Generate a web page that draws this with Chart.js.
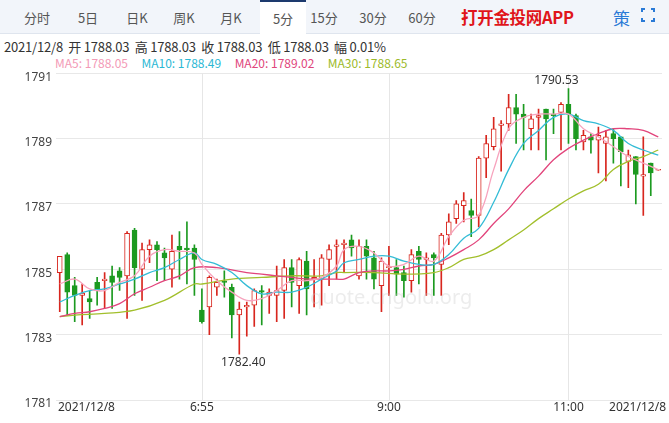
<!DOCTYPE html>
<html>
<head>
<meta charset="utf-8">
<script src="https://cdn.jsdelivr.net/npm/chart.js@4.4.0/dist/chart.umd.min.js"></script>
<style>
  body { margin: 0; width: 669px; height: 423px; overflow: hidden; background: #fff; font-family: "Noto Sans CJK SC", "Noto Sans", sans-serif; }
  .tabs { position: absolute; left: 0; top: 0; width: 669px; height: 33px; background: #f2f5fa; border-bottom: 1px solid #dfe5ee; }
  .tab { position: absolute; top: 0; height: 33px; line-height: 35px; font-size: 13px; color: #555; text-align: center; width: 44px; }
  .tab.on { background: #fff; border-top: 2px solid #1d3a6e; height: 32px; line-height: 33px; width: 46px; }
  .app { position: absolute; left: 461px; top: 0; line-height: 35px; font-size: 16.5px; font-weight: bold; color: #e0151b; letter-spacing: -0.3px; }
  .ce { position: absolute; left: 613px; top: 0; line-height: 35px; font-size: 17px; color: #2a7ad6; }
  .ico { position: absolute; left: 641px; top: 8px; width: 14px; height: 14px; border: 2px solid #2a7ad6; box-sizing: border-box; }
  .ico::before { content: ''; position: absolute; left: 2px; top: -2px; width: 6px; height: 14px; background: #f2f5fa; }
  .ico::after { content: ''; position: absolute; left: -2px; top: 2px; width: 14px; height: 6px; background: #f2f5fa; }
  .dots { position: absolute; left: 663px; top: 0; line-height: 33px; font-size: 16px; color: #2a7ad6; font-weight: bold; }
  .info { position: absolute; left: 4px; top: 37px; font-size: 13px; color: #333; white-space: pre; letter-spacing: -0.2px; }
  .ma { position: absolute; left: 55px; top: 54px; font-size: 12px; white-space: pre; }
  #wrap { position: absolute; left: 0; top: 62px; width: 669px; height: 361px; }
</style>
</head>
<body>
<div class="tabs">
  <div class="tab" style="left:15px">分时</div>
  <div class="tab" style="left:66px">5日</div>
  <div class="tab" style="left:115px">日K</div>
  <div class="tab" style="left:162px">周K</div>
  <div class="tab" style="left:209px">月K</div>
  <div class="tab on" style="left:260px">5分</div>
  <div class="tab" style="left:302px">15分</div>
  <div class="tab" style="left:351px">30分</div>
  <div class="tab" style="left:400px">60分</div>
  <div class="app">打开金投网APP</div>
  <div class="ce">策</div>
  <div class="ico"></div>
  <div class="dots">⋮</div>
</div>
<div class="info">2021/12/8  开 1788.03  高 1788.03  收 1788.03  低 1788.03  幅 0.01%</div>
<div class="ma"><span style="color:#f39ab6">MA5: 1788.05</span>     <span style="color:#2bb8d4">MA10: 1788.49</span>     <span style="color:#e0457b">MA20: 1789.02</span>     <span style="color:#9cba2a">MA30: 1788.65</span></div>
<div id="wrap"><canvas id="c"></canvas></div>
<script>
// candles, one per 5 minutes
const opens  = [1784.9,1785.45,1784.5,1784.2,1784.1,1784.6,1784.65,1784.8,1784.95,1784.8,
  1786.2,1785.0,1785.6,1785.75,1785.5,1785.0,1785.7,1785.65,1785.65,1783.75,
  1783.85,1784.45,1784.65,1784.45,1783.6,1783.85,1783.9,1784.35,1784.2,1784.2,
  1784.35,1785.05,1784.5,1785.25,1784.7,1784.7,1785.3,1785.7,1785.75,1785.9,
  1784.8,1785.7,1785.35,1784.5,1785.05,1785.05,1784.9,1784.65,1785.55,1785.3,
  1785.45,1785.15,1786.05,1786.55,1786.95,1786.8,1786.65,1788.4,1788.75,1789.4,
  1789.45,1789.95,1789.75,1789.3,1789.65,1789.9,1789.75,1789.8,1790.05,1789.7,
  1788.9,1789.05,1788.95,1788.85,1789.15,1789.05,1788.3,1788.45,1787.85,1788.25,1788.03];
const closes = [1785.4,1784.3,1784.2,1784.27,1784.0,1784.35,1784.7,1784.6,1784.75,1786.1,
  1785.05,1785.6,1785.75,1785.6,1785.35,1785.55,1785.6,1785.6,1785.3,1783.4,
  1784.75,1784.6,1784.6,1783.6,1783.78,1783.9,1784.35,1784.3,1784.3,1784.35,
  1785.05,1784.6,1785.3,1784.4,1784.75,1785.35,1785.6,1785.75,1785.8,1785.65,
  1785.7,1785.4,1784.7,1785.25,1785.05,1784.85,1784.65,1785.45,1785.3,1785.35,
  1785.35,1786.05,1786.45,1787.0,1787.1,1786.65,1788.4,1788.85,1789.3,1789.45,
  1789.95,1789.75,1789.65,1789.6,1789.7,1789.6,1789.7,1790.05,1789.75,1789.0,
  1789.1,1788.95,1789.1,1789.05,1789.0,1788.6,1788.5,1787.9,1787.9,1787.95,1788.03];
const highs  = [1785.4,1785.5,1784.75,1784.55,1784.35,1784.75,1784.9,1785.1,1785.05,1786.15,
  1786.25,1785.8,1785.9,1785.85,1785.65,1786.05,1786.15,1786.45,1785.75,1784.4,
  1784.8,1784.7,1784.95,1784.55,1784.0,1784.0,1784.4,1784.5,1784.4,1785.1,
  1785.3,1785.3,1785.35,1785.55,1785.3,1785.45,1785.75,1785.9,1785.9,1786.05,
  1785.9,1785.9,1785.55,1785.35,1785.7,1785.3,1785.1,1785.6,1785.7,1785.5,
  1785.5,1786.1,1786.7,1787.1,1787.35,1787.15,1788.45,1789.1,1789.65,1789.55,
  1790.35,1790.35,1790.05,1789.75,1789.9,1789.9,1789.9,1790.1,1790.53,1789.75,
  1789.25,1789.15,1789.35,1789.25,1789.3,1789.05,1788.65,1788.45,1789.05,1788.25,1788.03];
const lows   = [1783.7,1783.6,1783.4,1783.3,1783.5,1783.9,1783.8,1783.8,1784.35,1783.5,
  1784.2,1784.05,1785.2,1784.65,1784.65,1784.45,1784.7,1784.55,1784.2,1783.35,
  1783.0,1784.2,1784.15,1782.9,1782.40,1782.95,1783.25,1783.3,1783.65,1783.4,
  1783.5,1783.85,1783.65,1783.6,1783.85,1783.9,1784.5,1784.7,1784.9,1785.4,
  1784.7,1784.7,1784.4,1783.7,1784.2,1784.2,1784.15,1784.3,1784.55,1784.2,
  1784.2,1784.2,1785.75,1786.4,1786.45,1786.0,1786.3,1787.8,1788.65,1788.0,
  1789.25,1788.85,1788.65,1788.65,1788.65,1788.35,1789.15,1788.65,1788.85,1788.65,
  1788.65,1788.55,1787.95,1787.7,1788.25,1787.55,1787.5,1787.0,1786.65,1787.25,1788.03];

// moving averages, read at sampled candle indexes
const ma5Idx  = [0,2,4,6,8,10,12,14,16,18,19,21,23,25,27,29,31,33,35,37,38,40,42,44,46,48,50,52,54,56,58,60,62,64,66,68,70,72,74,76,78,80];
const ma5Val  = [1784.55,1784.7,1784.4,1784.35,1784.6,1784.8,1785.4,1785.6,1785.55,1785.5,1785.15,1784.65,1784.3,1784.05,1784.1,1784.35,1784.65,1784.65,1784.75,1785.1,1785.6,1785.7,1785.5,1785.1,1785.15,1785.4,1785.25,1786.0,1786.5,1786.65,1788.05,1789.3,1789.65,1789.75,1789.75,1789.75,1789.3,1789.05,1788.75,1788.45,1788.25,1788.05];
const ma10Idx = [0,2,4,6,8,10,12,14,16,18,19,21,23,25,27,29,31,33,35,37,38,40,42,44,46,48,50,52,54,56,58,60,62,64,66,68,70,72,74,76,78,80];
const ma10Val = [1784.0,1784.2,1784.35,1784.4,1784.55,1784.7,1784.9,1785.05,1785.3,1785.5,1785.3,1785.15,1784.9,1784.5,1784.25,1784.3,1784.3,1784.45,1784.7,1784.95,1785.2,1785.3,1785.4,1785.4,1785.25,1785.15,1785.15,1785.45,1785.95,1786.25,1787.05,1788.05,1788.85,1789.25,1789.65,1789.75,1789.55,1789.45,1789.25,1788.85,1788.65,1788.49];
const ma20Idx = [0,2,4,6,8,10,12,14,16,18,21,25,27,29,31,33,35,37,38,40,42,44,46,48,50,52,54,56,58,60,62,64,66,68,70,72,74,76,78,80];
const ma20Val = [1783.55,1783.65,1783.7,1783.8,1783.95,1784.25,1784.45,1784.65,1784.8,1785.05,1785.05,1784.9,1784.85,1784.8,1784.75,1784.7,1784.7,1784.7,1784.7,1784.9,1784.95,1784.95,1785.0,1785.1,1785.15,1785.35,1785.6,1785.9,1786.4,1786.85,1787.4,1787.85,1788.35,1788.7,1788.95,1789.15,1789.3,1789.3,1789.25,1789.05];
const ma30Idx = [0,2,6,10,14,18,19,23,27,31,35,37,38,42,46,50,52,54,56,58,60,62,64,66,68,70,72,74,76,78,80];
const ma30Val = [1783.55,1783.6,1783.65,1783.75,1784.05,1784.55,1784.55,1784.7,1784.75,1784.8,1784.8,1784.9,1784.9,1784.9,1784.85,1784.9,1785.05,1785.3,1785.4,1785.6,1785.9,1786.2,1786.55,1786.85,1787.15,1787.4,1787.6,1788.05,1788.3,1788.45,1788.65];

const timeTicks = { 0: '2021/12/8', 19: '6:55', 44: '9:00', 68: '11:00', 80: '2021/12/8' };
const yTicks = [1781, 1783, 1785, 1787, 1789, 1791];

const UP = '#d8261e', DOWN = '#1c9a20';
const labels = opens.map((_, i) => i);
const isUp = opens.map((o, i) => closes[i] >= o);
const bodies = opens.map((o, i) => {
  let lo = Math.min(o, closes[i]), hi = Math.max(o, closes[i]);
  if (hi - lo < 0.03) hi = lo + 0.03;
  return [lo, hi];
});
const wicks = highs.map((h, i) => [lows[i], h]);
const pts = (idx, val) => idx.map((x, k) => ({ x, y: val[k] }));

function maLine(label, data, color) {
  return { type: 'line', label, data, borderColor: color, borderWidth: 1.3, pointRadius: 0, tension: 0.4, order: 0 };
}

const extras = {
  id: 'extras',
  beforeDatasetsDraw(chart) {
    const { ctx, chartArea, scales: { x } } = chart;
    ctx.save();
    ctx.strokeStyle = '#e6e6e6';
    ctx.lineWidth = 1;
    [19, 44, 68].forEach(i => {
      const px = Math.round(x.getPixelForValue(i)) + 0.5;
      ctx.beginPath(); ctx.moveTo(px, chartArea.top); ctx.lineTo(px, chartArea.bottom); ctx.stroke();
    });
    ctx.restore();
  },
  afterDraw(chart) {
    const { ctx, chartArea, scales: { x, y } } = chart;
    ctx.save();
    ctx.font = '12px "Noto Sans", sans-serif';
    ctx.fillStyle = '#333';
    ctx.textBaseline = 'top';
    Object.keys(timeTicks).forEach(k => {
      const i = +k;
      let px = x.getPixelForValue(i);
      ctx.textAlign = i === 0 ? 'left' : (i === 80 ? 'right' : 'center');
      if (i === 0) px = chartArea.left + 2;
      if (i === 80) px = chartArea.right + 4;
      ctx.fillText(timeTicks[k], px, chartArea.bottom + 2);
    });
    // extreme labels
    const hiI = highs.indexOf(Math.max(...highs));
    const loI = lows.indexOf(Math.min(...lows));
    ctx.textAlign = 'center';
    ctx.textBaseline = 'bottom';
    ctx.fillText(highs[hiI].toFixed(2), x.getPixelForValue(hiI) - 12, y.getPixelForValue(highs[hiI]) - 2);
    ctx.textBaseline = 'top';
    ctx.fillText(lows[loI].toFixed(2), x.getPixelForValue(loI) + 4, y.getPixelForValue(lows[loI]) + 2);
    // watermark
    ctx.fillStyle = 'rgba(200,200,200,0.35)';
    ctx.font = '20px "Noto Sans", sans-serif';
    ctx.textAlign = 'left';
    ctx.fillText('quote.cngold.org', 310, 226);
    ctx.restore();
  }
};

new Chart(document.getElementById('c'), {
  data: {
    labels,
    datasets: [
      { type: 'bar', data: wicks, backgroundColor: isUp.map(u => u ? UP : DOWN), barThickness: 1, grouped: false, order: 2 },
      { type: 'bar', data: bodies, backgroundColor: isUp.map(u => u ? '#fff' : DOWN), borderColor: isUp.map(u => u ? UP : DOWN),
        borderWidth: 1, borderSkipped: false, barThickness: 5, grouped: false, order: 1 },
      maLine('MA5', pts(ma5Idx, ma5Val), '#f7a3bd'),
      maLine('MA10', pts(ma10Idx, ma10Val), '#34bcd6'),
      maLine('MA20', pts(ma20Idx, ma20Val), '#e2457c'),
      maLine('MA30', pts(ma30Idx, ma30Val), '#a2bf2c')
    ]
  },
  options: {
    responsive: true, maintainAspectRatio: false, animation: false,
    layout: { padding: { top: 8, right: 7, bottom: 15, left: 0 } },
    plugins: { legend: { display: false }, tooltip: { enabled: false } },
    scales: {
      x: { offset: true, grid: { display: false }, border: { display: false }, ticks: { display: false } },
      y: {
        min: 1781, max: 1791,
        afterFit: s => { s.width = 56; },
        afterBuildTicks: s => { s.ticks = yTicks.map(v => ({ value: v })); },
        grid: { color: '#e8e8e8', drawTicks: false },
        border: { display: false },
        ticks: { color: '#444', font: { size: 12, family: '"Noto Sans", sans-serif' }, padding: 4, labelOffset: 4,
          callback: v => String(v) }
      }
    }
  },
  plugins: [extras]
});
</script>
</body>
</html>
